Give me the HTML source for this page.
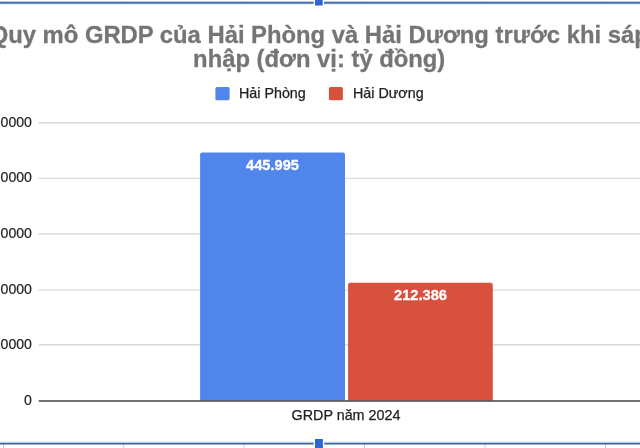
<!DOCTYPE html>
<html lang="vi">
<head>
<meta charset="utf-8">
<title>Quy mô GRDP của Hải Phòng và Hải Dương</title>
<style>
html,body{margin:0;padding:0;background:#fff;}
body{width:640px;height:448px;overflow:hidden;position:relative;font-family:"Liberation Sans",Arial,sans-serif;}
#c{position:absolute;left:0;top:0;width:640px;height:448px;overflow:hidden;background:#fff;}
.abs{position:absolute;}
.title{-webkit-text-stroke:0.3px #757575;position:absolute;left:-40.8px;width:720px;text-align:center;top:23.05px;font-weight:bold;font-size:23.8px;line-height:24.4px;color:#757575;white-space:nowrap;}
.ylab{-webkit-text-stroke:0.2px #222;transform:translateY(-0.3px) scaleY(1.06);transform-origin:50% 10%;position:absolute;right:608.1px;font-size:14.1px;line-height:16px;color:#222;white-space:nowrap;}
.leg{-webkit-text-stroke:0.25px #222;position:absolute;font-size:14.3px;line-height:16px;color:#222;white-space:nowrap;top:85px;}
.dl{-webkit-text-stroke:0.3px #fff;position:absolute;font-weight:bold;font-size:14.67px;line-height:16px;color:#fff;text-align:center;white-space:nowrap;}
</style>
</head>
<body>
<div id="c">
  <svg class="abs" style="left:0;top:0;" width="640" height="448" viewBox="0 0 640 448">
    <!-- horizontal gridlines -->
    <g stroke="#d0d0d0" stroke-width="1.15">
      <line x1="38.7" x2="640" y1="122.9" y2="122.9"/>
      <line x1="38.7" x2="640" y1="178.2" y2="178.2"/>
      <line x1="38.7" x2="640" y1="233.9" y2="233.9"/>
      <line x1="38.7" x2="640" y1="290" y2="290"/>
      <line x1="38.7" x2="640" y1="344.9" y2="344.9"/>
    </g>
    <!-- legend swatches -->
    <rect x="215.4" y="87" width="14.2" height="13.3" rx="1.6" fill="#5085ec"/>
    <rect x="328.9" y="87" width="14" height="13.3" rx="1.6" fill="#d8503e"/>
    <!-- bars -->
    <path d="M200.1 400.6V154.6a2.2 2.2 0 0 1 2.2-2.2H342.8a2.2 2.2 0 0 1 2.2 2.2V400.6Z" fill="#5085ec"/>
    <path d="M348.1 400.6V285a2.2 2.2 0 0 1 2.2-2.2H490.6a2.2 2.2 0 0 1 2.2 2.2V400.6Z" fill="#d8503e"/>
    <!-- baseline axis -->
    <line x1="38.7" x2="640" y1="401" y2="401" stroke="#404040" stroke-width="1.4"/>
    <!-- sheet gridlines peeking above/below the chart -->
    <g stroke="#e2e4e8" stroke-width="1">
      <line x1="3.5" x2="3.5" y1="0" y2="2"/><line x1="123.6" x2="123.6" y1="0" y2="2"/><line x1="244" x2="244" y1="0" y2="2"/>
      <line x1="364.5" x2="364.5" y1="0" y2="2"/><line x1="485" x2="485" y1="0" y2="2"/><line x1="605.5" x2="605.5" y1="0" y2="2"/>
    </g>
    <g stroke="#c8ccd2" stroke-width="1">
      <line x1="3.5" x2="3.5" y1="444" y2="448"/><line x1="123.6" x2="123.6" y1="444" y2="448"/><line x1="244" x2="244" y1="444" y2="448"/>
      <line x1="364.5" x2="364.5" y1="444" y2="448"/><line x1="485" x2="485" y1="444" y2="448"/><line x1="605.5" x2="605.5" y1="444" y2="448"/>
    </g>
    <!-- selection border -->
    <rect x="0" y="0.9" width="640" height="3.9" fill="#e6effb"/>
    <line x1="0" x2="640" y1="2.8" y2="2.8" stroke="#486cac" stroke-width="2.1"/>
    <rect x="315" y="-2" width="7.7" height="7.5" fill="#2e66d6" stroke="#fff" stroke-width="2.6" paint-order="stroke"/>
    <rect x="0" y="441.5" width="640" height="1.3" fill="#deebfa"/>
    <line x1="0" x2="640" y1="443.6" y2="443.6" stroke="#40629c" stroke-width="1.9"/>
    <rect x="315" y="439" width="7.9" height="11" fill="#2e66d6" stroke="#fff" stroke-width="2.6" paint-order="stroke"/>
  </svg>
  <!-- title -->
  <div class="title">Quy mô GRDP của Hải Phòng và Hải Dương trước khi sáp<br>nhập (đơn vị: tỷ đồng)</div>
  <!-- legend -->
  <div class="leg" style="left:239px;">Hải Phòng</div>
  <div class="leg" style="left:353px;">Hải Dương</div>
  <!-- y labels -->
  <div class="ylab" style="top:114px;">500000</div>
  <div class="ylab" style="top:169px;">400000</div>
  <div class="ylab" style="top:225px;">300000</div>
  <div class="ylab" style="top:281px;">200000</div>
  <div class="ylab" style="top:336px;">100000</div>
  <div class="ylab" style="top:392px;">0</div>
  <!-- data labels -->
  <div class="dl" style="left:200px;width:145px;top:157px;">445.995</div>
  <div class="dl" style="left:348px;width:145px;top:287px;">212.386</div>
  <!-- x axis label -->
  <div class="abs" style="left:246px;width:200px;text-align:center;top:407px;-webkit-text-stroke:0.25px #222;font-size:14.33px;line-height:16px;color:#222;white-space:nowrap;">GRDP năm 2024</div>
</div>
</body>
</html>
